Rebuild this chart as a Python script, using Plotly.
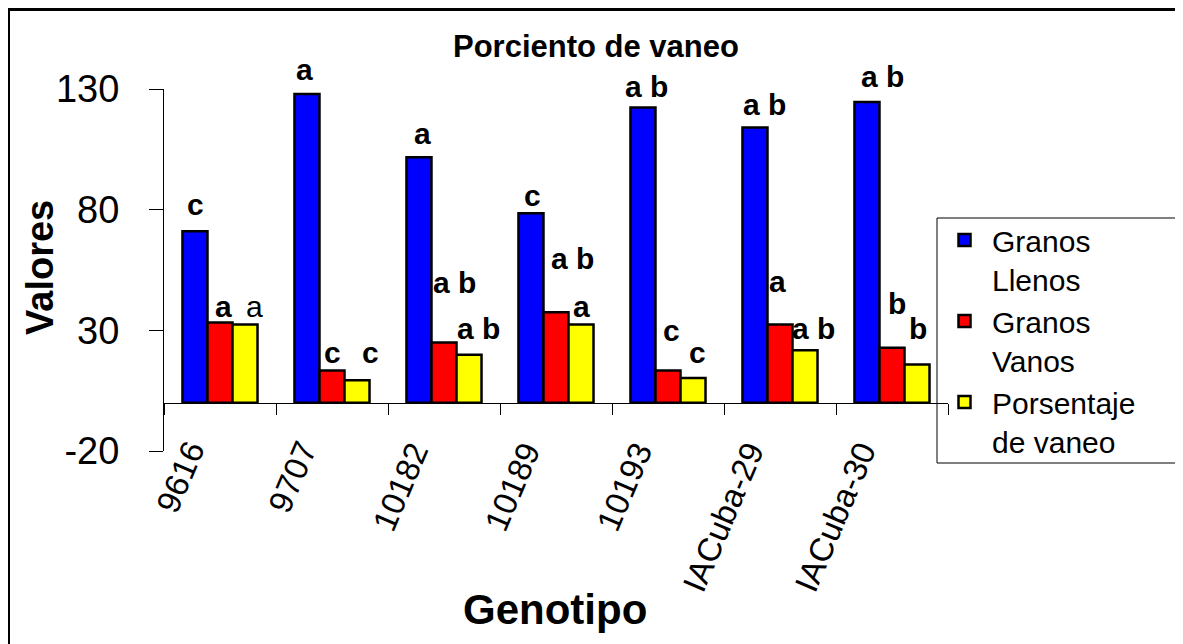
import plotly.graph_objects as go

# ---------------- data ----------------
genotipos = ["9616", "9707", "10182", "10189", "10193", "IACuba-29", "IACuba-30"]
granos_llenos = [71.1, 127.9, 101.7, 78.5, 122.3, 114.0, 124.6]
granos_vanos = [33.2, 13.4, 25.0, 37.5, 13.4, 32.4, 22.8]
porcentaje_vaneo = [32.4, 9.3, 19.9, 32.4, 10.2, 21.7, 15.8]

letras_llenos = ["c", "a", "a", "c", "a b", "a b", "a b"]
letras_vanos = ["a", "c", "a b", "a b", "c", "a", "b"]
letras_vaneo = ["a", "c", "a b", "a", "c", "a b", "b"]

y_ticks = [-20, 30, 80, 130]

series_names = ["Granos<br>Llenos", "Granos<br>Vanos", "Porsentaje<br>de vaneo"]

# ---------------- layout helpers (positions / styles) ----------------
OFF = 8                      # default page (body) margin of the html page
W, H = 1183 - OFF, 644 - OFF  # figure size so that it fits the window
PL, PR, PT, PB = 164, 948, 89, 451  # plot area in page pixels


def px_x(x):
    return (x - PL) / (PR - PL)


def px_y(y):
    return (PB - y) / (PB - PT)


FONT = "Liberation Sans, Arial, Helvetica, sans-serif"
colors = ["#0000FF", "#FF0000", "#FFFF00"]

# label offsets (pixels) relative to each bar top / category centre
lab_dx = [
    [-25, -28, -22, -24, -22, -16, -10],
    [3, 0, 10, 16, 3, -3, 5],
    [34, 38, 34, 25, 29, 33, 26],
]
lab_dy = [
    [27, 25, 24, 18, 21, 23, 26],
    [16, 18, 60, 54, 40, 43, 44],
    [18, 28, 26, 18, 26, 22, 36],
]

fig = go.Figure()
for name, vals, col in zip(series_names, [granos_llenos, granos_vanos, porcentaje_vaneo], colors):
    fig.add_trace(go.Bar(
        x=genotipos, y=vals, name=name,
        marker=dict(color=col, line=dict(color="black", width=2.5)),
    ))

annotations = []
all_vals = [granos_llenos, granos_vanos, porcentaje_vaneo]
all_letters = [letras_llenos, letras_vanos, letras_vaneo]
for s in range(3):
    for i, g in enumerate(genotipos):
        bold = not (s == 2 and i == 0)
        txt = all_letters[s][i]
        annotations.append(dict(
            x=i, y=all_vals[s][i], xref="x", yref="y",
            text=f"<b>{txt}</b>" if bold else txt,
            showarrow=False, xshift=lab_dx[s][i], yshift=lab_dy[s][i],
            xanchor="center", yanchor="middle",
            font=dict(family=FONT, size=30, color="black"),
        ))

# rotated category labels
for i, g in enumerate(genotipos):
    annotations.append(dict(
        x=i, y=px_y(434), xref="x", yref="paper", text=g,
        showarrow=False, textangle=-67, xanchor="right", yanchor="top",
        xshift=-6, font=dict(family=FONT, size=33, color="black"),
    ))

# titles
annotations.append(dict(x=px_x(596), y=px_y(47), xref="paper", yref="paper",
                         text="<b>Porciento de vaneo</b>", showarrow=False,
                         xanchor="center", yanchor="middle",
                         font=dict(family=FONT, size=31, color="black")))
annotations.append(dict(x=px_x(555), y=px_y(609), xref="paper", yref="paper",
                         text="<b>Genotipo</b>", showarrow=False,
                         xanchor="center", yanchor="middle",
                         font=dict(family=FONT, size=42, color="black")))
annotations.append(dict(x=px_x(40), y=px_y(268), xref="paper", yref="paper",
                         text="<b>Valores</b>", showarrow=False, textangle=-90,
                         xanchor="center", yanchor="middle",
                         font=dict(family=FONT, size=38, color="black")))

fig.update_layout(
    width=W, height=H,
    margin=dict(l=PL - OFF, r=W + OFF - PR, t=PT - OFF, b=H + OFF - PB, pad=0),
    paper_bgcolor="white", plot_bgcolor="white",
    font=dict(family=FONT, color="black"),
    barmode="group", bargap=0.33, bargroupgap=0,
    showlegend=True,
    legend=dict(
        x=px_x(937), y=px_y(214), xanchor="left", yanchor="top",
        borderwidth=0, bgcolor="rgba(0,0,0,0)",
        font=dict(family=FONT, size=30, color="black"),
        itemwidth=45, valign="top", tracegroupgap=0,
    ),
    annotations=annotations,
    shapes=[
        # legend box (runs under the outer frame on the right)
        dict(type="rect", xref="paper", yref="paper",
             x0=px_x(937), x1=px_x(1195), y0=px_y(463), y1=px_y(218),
             line=dict(color="black", width=1), fillcolor="rgba(0,0,0,0)",
             layer="above"),
        # outer frame
        dict(type="rect", xref="paper", yref="paper",
             x0=px_x(8.5), x1=px_x(1181.5), y0=px_y(700), y1=px_y(9.5),
             line=dict(color="black", width=3), layer="above"),
    ],
)

fig.update_yaxes(
    range=[-20, 130], tickvals=y_ticks, ticktext=[str(v) for v in y_ticks],
    showline=True, linecolor="black", linewidth=1,
    ticks="outside", ticklen=14, tickcolor="black", tickwidth=1,
    ticklabelstandoff=22,
    tickfont=dict(family=FONT, size=38, color="black"),
    showgrid=False, zeroline=False, automargin=False,
)
fig.update_xaxes(
    type="category", range=[-0.5, len(genotipos) - 0.5],
    anchor="free", position=20 / 150,
    showline=True, linecolor="black", linewidth=1,
    ticks="outside", tickson="boundaries", ticklen=11, tickcolor="black",
    showticklabels=False,
    showgrid=False, zeroline=False, automargin=False,
)

fig.write_html("out.html")
